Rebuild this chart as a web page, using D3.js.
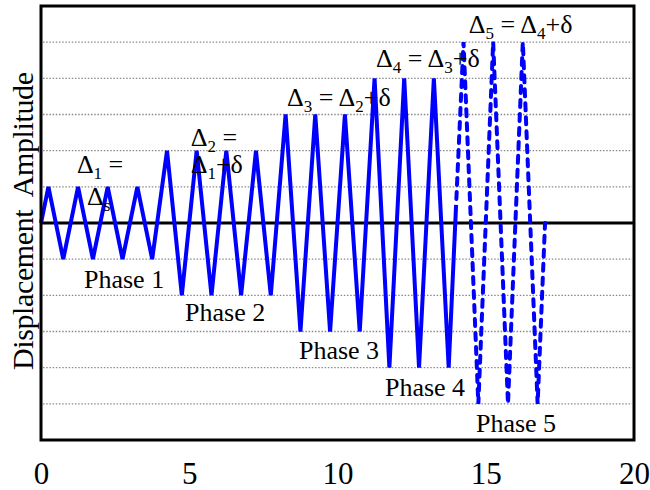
<!DOCTYPE html>
<html>
<head>
<meta charset="utf-8">
<script src="https://cdn.jsdelivr.net/npm/d3@7/dist/d3.min.js"></script>
<style>
  html, body { margin: 0; padding: 0; background: #fff; }
  svg { display: block; }
  text { font-family: "Liberation Serif", "Times New Roman", serif; fill: #000; }
</style>
</head>
<body>
<svg id="chart" width="650" height="490"></svg>
<script>
// ---- data ----
const xTicks = [0, 5, 10, 15, 20];
const gridLevels = [-5, -4, -3, -2, -1, 1, 2, 3, 4, 5];

// solid part of the displacement history (phases 1-4)
const solidX = [0, 0.25, 0.75, 1.25, 1.75, 2.25, 2.75, 3.25, 3.75,
                4.25, 4.75, 5.25, 5.75, 6.25, 6.75, 7.25, 7.75,
                8.25, 8.75, 9.25, 9.75, 10.25, 10.75,
                11.25, 11.75, 12.25, 12.75, 13.25, 13.75, 14];
const solidY = [0, 1, -1, 1, -1, 1, -1, 1, -1,
                2, -2, 2, -2, 2, -2, 2, -2,
                3, -3, 3, -3, 3, -3,
                4, -4, 4, -4, 4, -4, 0.5];

// dashed part (phase 5)
const dashedX = [14, 14.25, 14.75, 15.25, 15.75, 16.25, 16.75, 17];
const dashedY = [0.5, 5, -5, 5, -5, 5, -5, 0];

// annotations: positions in data units, text pieces (1 = subscript)
const phaseLabels = ["Phase 1", "Phase 2", "Phase 3", "Phase 4", "Phase 5"];
const phaseX = [1.45, 4.86, 8.7, 11.6, 14.67];
const phaseY = [-1.8, -2.71, -3.76, -4.78, -5.78];

const deltaLabels = [
  [["\u0394"], ["1", 1], [" ="]],
  [["\u0394"], ["s", 1]],
  [["\u0394"], ["2", 1], [" ="]],
  [["\u0394"], ["1", 1], ["+\u03b4"]],
  [["\u0394"], ["3", 1], [" = \u0394"], ["2", 1], ["+\u03b4"]],
  [["\u0394"], ["4", 1], [" = \u0394"], ["3", 1], ["+\u03b4"]],
  [["\u0394"], ["5", 1], [" = \u0394"], ["4", 1], ["+\u03b4"]]
];
const deltaX = [1.21, 1.55, 5.05, 5.05, 8.3, 11.3, 14.43];
const deltaY = [1.38, 0.5, 2.13, 1.38, 3.23, 4.31, 5.25];

const yLabel = "Displacement\u00a0 Amplitude";

// ---- layout ----
const mLeft = 41, mRight = 634, mTop = 6, mBottom = 440;
const svg = d3.select("#chart");

const x = d3.scaleLinear().domain([0, 20]).range([mLeft, mRight]);
const y = d3.scaleLinear().domain([-6, 6]).range([mBottom, mTop]);

// grid lines
svg.append("g").selectAll("line").data(gridLevels).join("line")
  .attr("x1", mLeft + 2).attr("x2", mRight - 2)
  .attr("y1", d => y(d)).attr("y2", d => y(d))
  .attr("stroke", "#8a8a8a").attr("stroke-width", 1.4)
  .attr("stroke-dasharray", "1.5,1.7");

// zero line
svg.append("line")
  .attr("x1", mLeft).attr("x2", mRight)
  .attr("y1", y(0)).attr("y2", y(0))
  .attr("stroke", "#000").attr("stroke-width", 3);

const line = d3.line().x(d => x(d[0])).y(d => y(d[1]));

svg.append("path")
  .datum(solidX.map((v, i) => [v, solidY[i]]))
  .attr("d", line)
  .attr("fill", "none").attr("stroke", "#0000ff")
  .attr("stroke-width", 4).attr("stroke-linejoin", "miter");

svg.append("path")
  .datum(dashedX.map((v, i) => [v, dashedY[i]]))
  .attr("d", line)
  .attr("fill", "none").attr("stroke", "#0000ff")
  .attr("stroke-width", 4).attr("stroke-linecap", "round")
  .attr("stroke-dasharray", "7,7").attr("stroke-dashoffset", -6);

// frame
svg.append("rect")
  .attr("x", mLeft).attr("y", mTop)
  .attr("width", mRight - mLeft).attr("height", mBottom - mTop)
  .attr("fill", "none").attr("stroke", "#000").attr("stroke-width", 3);

// x axis (labels only)
const xAxis = d3.axisBottom(x).tickValues(xTicks).tickSize(0).tickFormat(d3.format("d"));
svg.append("g")
  .attr("transform", `translate(0,${mBottom})`)
  .call(xAxis)
  .call(g => g.select(".domain").remove())
  .call(g => g.selectAll("text")
    .attr("y", 44).attr("dy", 0)
    .attr("font-size", 31)
    .attr("font-family", "Liberation Serif, Times New Roman, serif")
    .attr("fill", "#000"));

// y label
svg.append("text")
  .attr("transform", `translate(33,221) rotate(-90)`)
  .attr("text-anchor", "middle")
  .attr("font-size", 30)
  .attr("textLength", 298)
  .attr("lengthAdjust", "spacing")
  .text(yLabel);

// phase labels
svg.append("g").selectAll("text").data(phaseLabels).join("text")
  .attr("x", (d, i) => x(phaseX[i]))
  .attr("y", (d, i) => y(phaseY[i]))
  .attr("font-size", 26)
  .text(d => d);

// delta labels
const dl = svg.append("g").selectAll("text").data(deltaLabels).join("text")
  .attr("x", (d, i) => x(deltaX[i]))
  .attr("y", (d, i) => y(deltaY[i]))
  .attr("font-size", 26);
dl.each(function(parts) {
  const t = d3.select(this);
  let shifted = false;
  parts.forEach(p => {
    const s = t.append("tspan").text(p[0]);
    if (p[1]) {
      s.attr("font-size", 17).attr("dy", shifted ? 0 : 6);
      shifted = true;
    } else {
      if (shifted) s.attr("dy", -6);
      shifted = false;
    }
  });
});
</script>
</body>
</html>
